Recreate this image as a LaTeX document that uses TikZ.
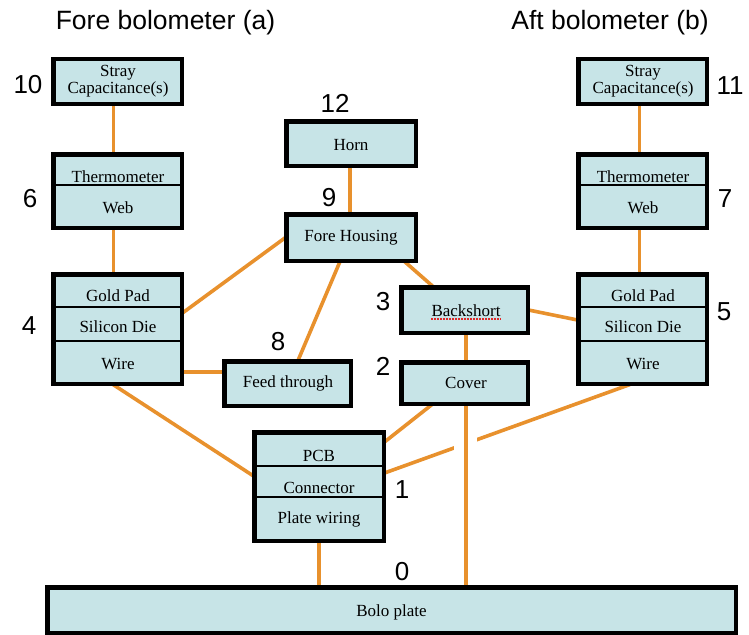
\documentclass[tikz,border=0pt]{standalone}
\usepackage{fontspec}
\setmainfont{Liberation Serif}
\newfontfamily\lblfont{Liberation Sans}
\definecolor{boxfill}{RGB}{199,228,231}
\definecolor{conncol}{RGB}{232,145,45}
\definecolor{spellred}{RGB}{225,40,40}
\begin{document}
\begin{tikzpicture}[x=1pt,y=-1pt,
  boxshape/.style={draw=black, line width=3pt, fill=boxfill, rectangle, inner sep=0pt},
  boxtext/.style={font=\fontsize{17}{14}\selectfont, inner sep=0pt, align=center},
  divider/.style={draw=black, line width=1.2pt},
  conn/.style={draw=conncol, line width=3.6pt},
  numlbl/.style={font=\lblfont\fontsize{26}{28}\selectfont, inner sep=0pt},
  titlelbl/.style={font=\lblfont\fontsize{26.5}{28}\selectfont, inner sep=0pt}]
\useasboundingbox (0,0) rectangle (749,634);

% titles
\node[titlelbl] (tA) at (165.5,23) {Fore bolometer (a)};
\node[titlelbl] (tB) at (610,23) {Aft bolometer (b)};

% ---------- boxes ----------
% left column
\node[boxshape, minimum width=127pt, minimum height=43pt] (s10) at (117.5,81.5) {};
\node[boxshape, minimum width=127pt, minimum height=72pt] (t6) at (117.5,191) {};
\node[boxshape, minimum width=127pt, minimum height=108pt] (g4) at (117.5,329) {};
% right column
\node[boxshape, minimum width=127pt, minimum height=43pt] (s11) at (642.5,81.5) {};
\node[boxshape, minimum width=127pt, minimum height=72pt] (t7) at (642.5,191) {};
\node[boxshape, minimum width=127pt, minimum height=108pt] (g5) at (642.5,329) {};
% middle
\node[boxshape, minimum width=128pt, minimum height=43pt] (h12) at (351,143.5) {};
\node[boxshape, minimum width=128pt, minimum height=45pt] (fh9) at (351,237.5) {};
\node[boxshape, minimum width=125pt, minimum height=44pt] (bs3) at (464.5,310) {};
\node[boxshape, minimum width=125pt, minimum height=40pt] (cv2) at (464.5,383) {};
\node[boxshape, minimum width=125pt, minimum height=43pt] (ft8) at (287.5,383.5) {};
\node[boxshape, minimum width=128pt, minimum height=107pt] (pcb1) at (319,486.5) {};
\node[boxshape, minimum width=687pt, minimum height=44pt] (bp0) at (391.5,610) {};

% dividers
\draw[divider] (t6.west |- 0,185) -- (t6.east |- 0,185);
\draw[divider] (g4.west |- 0,307) -- (g4.east |- 0,307);
\draw[divider] (g4.west |- 0,341) -- (g4.east |- 0,341);
\draw[divider] (t7.west |- 0,185) -- (t7.east |- 0,185);
\draw[divider] (g5.west |- 0,307) -- (g5.east |- 0,307);
\draw[divider] (g5.west |- 0,341) -- (g5.east |- 0,341);
\draw[divider] (pcb1.west |- 0,466) -- (pcb1.east |- 0,466);
\draw[divider] (pcb1.west |- 0,497) -- (pcb1.east |- 0,497);

% box texts
\node[boxtext] (s10t) at (118,81) {Stray\\Capacitance(s)};
\node[boxtext] (t6a) at (118,177) {Thermometer};
\node[boxtext] (t6b) at (118,208) {Web};
\node[boxtext] (g4a) at (118,296) {Gold Pad};
\node[boxtext] (g4b) at (118,327) {Silicon Die};
\node[boxtext] (g4c) at (118,364) {Wire};
\node[boxtext] (s11t) at (643,81) {Stray\\Capacitance(s)};
\node[boxtext] (t7a) at (643,177) {Thermometer};
\node[boxtext] (t7b) at (643,208) {Web};
\node[boxtext] (g5a) at (643,296) {Gold Pad};
\node[boxtext] (g5b) at (643,327) {Silicon Die};
\node[boxtext] (g5c) at (643,364) {Wire};
\node[boxtext] (h12t) at (351,145) {Horn};
\node[boxtext] (fh9t) at (351,238) {Fore Housing};
\node[boxtext] (bs3t) at (466,311) {Backshort};
\node[boxtext] (cv2t) at (466,383) {Cover};
\node[boxtext] (ft8t) at (288,383) {Feed through};
\node[boxtext] (pcb1a) at (319,456) {PCB};
\node[boxtext] (pcb1b) at (319,488) {Connector};
\node[boxtext] (pcb1c) at (319,519) {Plate wiring};
\node[boxtext] (bp0t) at (391.5,612) {Bolo plate};
\draw[spellred, line width=1.4pt, dash pattern=on 1.6pt off 1.4pt] (bs3t.south west) ++(0,2) coordinate (ul1) -- (bs3t.south east |- ul1);

% number labels
\node[numlbl] (n10) at (28,85) {10};
\node[numlbl] (n6) at (30,199) {6};
\node[numlbl] (n4) at (29,326) {4};
\node[numlbl] (n11) at (730,86) {11};
\node[numlbl] (n7) at (725,199) {7};
\node[numlbl] (n5) at (724,312) {5};
\node[numlbl] (n12) at (335,103) {12};
\node[numlbl] (n9) at (329,198) {9};
\node[numlbl] (n3) at (383,302) {3};
\node[numlbl] (n2) at (383,366) {2};
\node[numlbl] (n8) at (278,342) {8};
\node[numlbl] (n1) at (402,490) {1};
\node[numlbl] (n0) at (402,572) {0};

% ---------- connectors ----------
\draw[conn] ([xshift=-4pt]s10.south) -- ([xshift=-4pt]t6.north);
\draw[conn] ([xshift=-4pt]t6.south) -- ([xshift=-4pt]g4.north);
\draw[conn] ([xshift=-3pt]s11.south) -- ([xshift=-3pt]t7.north);
\draw[conn] ([xshift=-3pt]t7.south) -- ([xshift=-3pt]g5.north);
\draw[conn] ([xshift=-1pt]h12.south) -- ([xshift=-1pt]fh9.north);
\draw[conn] (fh9.west) -- ([yshift=16pt]g4.east);
\draw[conn] ([xshift=-11pt]fh9.south) -- ([xshift=10.5pt]ft8.north);
\draw[conn] ([xshift=-12pt]fh9.south east) -- ([xshift=-31.5pt]bs3.north);
\draw[conn] ([yshift=-43pt]g4.east) -- ([yshift=11.5pt]ft8.west);
\draw[conn] (bs3.east) -- ([yshift=9pt]g5.west);
\draw[conn] ([xshift=1.5pt]bs3.south) -- ([xshift=1.5pt]cv2.north);
\draw[conn] ([xshift=-4.5pt]g4.south) -- ([yshift=10.5pt]pcb1.west);
\draw[conn] ([xshift=-32.5pt]cv2.south) -- ([yshift=44.5pt]pcb1.east);
\draw[conn] ([xshift=-12.5pt]g5.south) -- ([yshift=13.5pt]pcb1.east);
\fill[white] (454,435) rectangle (477,453);
\draw[conn] ([xshift=1.5pt]cv2.south) -- ([xshift=1.5pt]cv2.south |- bp0.north);
\draw[conn] (pcb1.south) -- (pcb1.south |- bp0.north);

% redraw box borders over connector ends
\foreach \b in {s10,t6,g4,s11,t7,g5,h12,fh9,bs3,cv2,ft8,pcb1,bp0}{
  \draw[black, line width=3pt] (\b.north west) rectangle (\b.south east);
}
\end{tikzpicture}
\end{document}
